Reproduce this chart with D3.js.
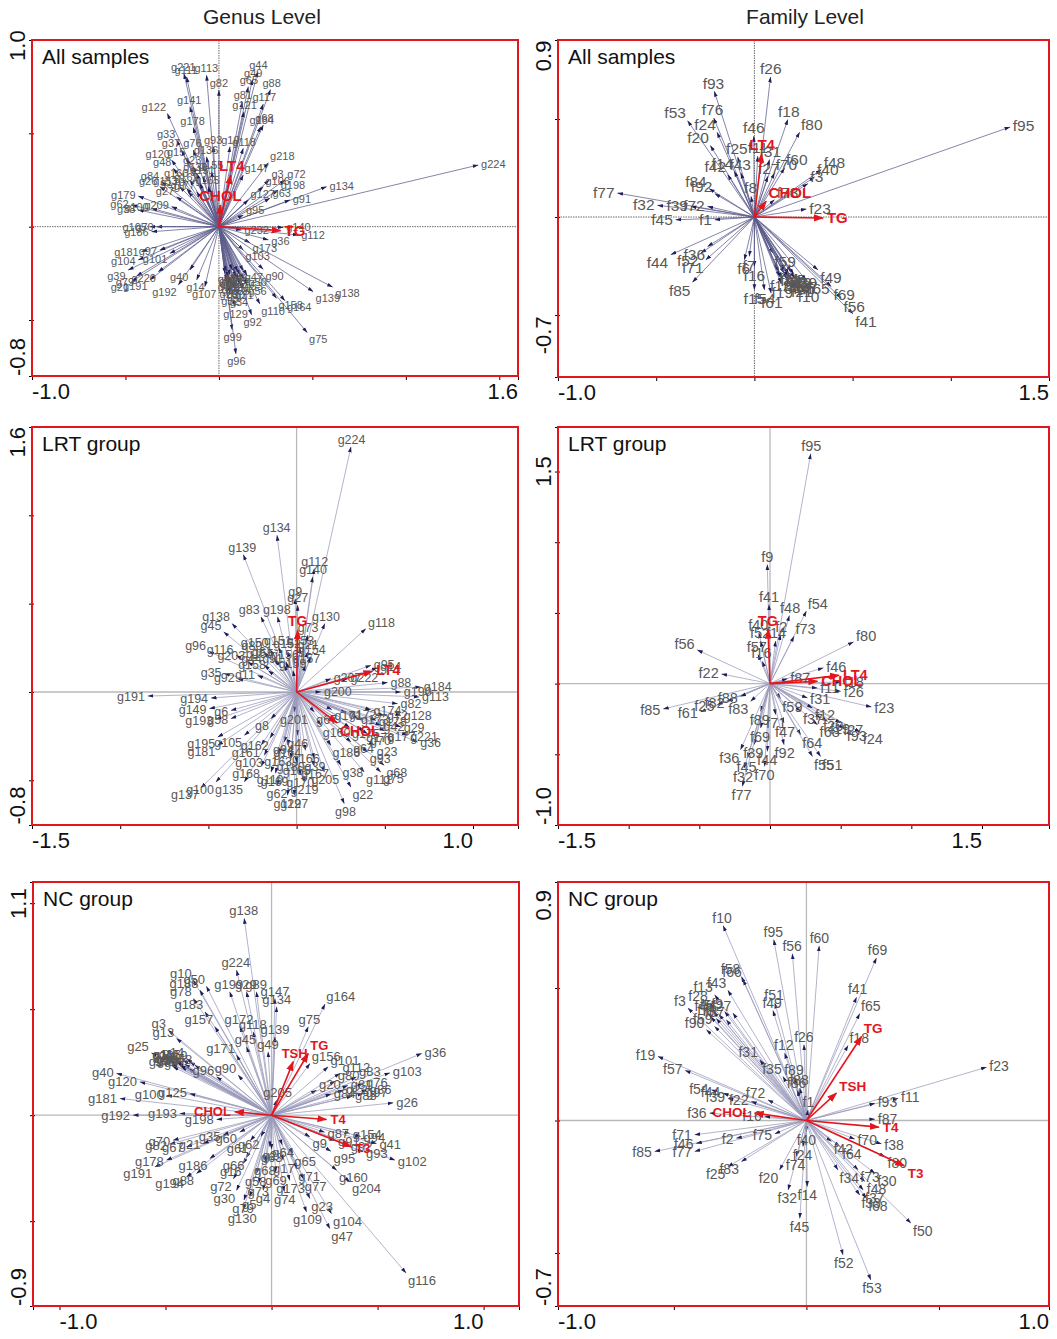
<!DOCTYPE html>
<html>
<head>
<meta charset="utf-8">
<script src="https://cdn.jsdelivr.net/npm/d3@7"></script>
<style>
  body { margin: 0; background: #fff; }
  svg { display: block; }
  text { font-family: Arial, "Liberation Sans", sans-serif; }
</style>
</head>
<body>
<svg id="chart"></svg>
<script>
// ---- Genus level, all samples ----
const gAllNames = ["g221","g111","g113","g82","g44","g49","g65","g88","g81","g117","g121","g184","g68","g122","g141","g178","g33","g218","g118","g10","g93","g76","g37","g120","g15","g136","g23","g48","g147","g3","g72","g106","g198","g134","g127","g63","g91","g95","g224","g179","g84","g26","g153","g62","g38","g100","g209","g27","g7","g70","g186","g105","g181","g104","g97","g101","g39","g79","g191","g21","g220","g192","g107","g40","g14","g232","g140","g112","g173","g36","g103","g90","g138","g139","g75","g164","g158","g110","g129","g92","g99","g96","g5","g11","g12","g17","g18","g19","g20","g28","g30","g31","g32","g34","g130","g151","g155","g160","g162","g165","g170","g177","g42","g43","g46","g47","g50","g51","g52","g53","g54","g55","g56"]
const gAllX = [-0.187,-0.173,-0.066,0.0,0.207,0.18,0.157,0.276,0.125,0.237,0.134,0.223,0.237,-0.276,-0.155,-0.137,-0.226,0.264,0.13,0.059,-0.03,-0.137,-0.2,-0.253,-0.173,-0.066,-0.137,-0.244,0.13,0.269,0.353,0.237,0.317,0.576,0.157,0.273,0.38,0.13,1.387,-0.431,-0.307,-0.316,-0.209,-0.467,-0.431,-0.36,-0.253,-0.226,-0.164,-0.333,-0.36,-0.369,-0.414,-0.431,-0.316,-0.262,-0.485,-0.44,-0.369,-0.467,-0.324,-0.217,-0.075,-0.155,-0.119,0.121,0.344,0.424,0.166,0.264,0.13,0.237,0.608,0.504,0.472,0.353,0.308,0.219,0.086,0.175,0.071,0.091,0.032,0.059,0.086,0.112,0.041,0.077,0.103,0.05,0.086,0.13,0.059,0.103,-0.119,-0.084,-0.039,-0.155,-0.102,-0.057,-0.173,-0.119,0.04,0.07,0.1,0.13,0.15,0.05,0.09,0.13,0.06,0.11,0.15]
const gAllY = [0.82,0.802,0.811,0.731,0.829,0.788,0.749,0.734,0.668,0.656,0.615,0.535,0.544,0.606,0.642,0.531,0.463,0.342,0.419,0.428,0.428,0.41,0.41,0.357,0.365,0.374,0.321,0.312,0.276,0.25,0.25,0.214,0.196,0.214,0.143,0.152,0.143,0.062,0.33,0.164,0.241,0.214,0.214,0.116,0.089,0.098,0.107,0.16,0.187,0.0,-0.027,0.0,-0.134,-0.178,-0.125,-0.143,-0.232,-0.264,-0.285,-0.294,-0.241,-0.312,-0.321,-0.232,-0.285,-0.018,-0.004,-0.045,-0.086,-0.071,-0.125,-0.228,-0.324,-0.348,-0.567,-0.396,-0.383,-0.414,-0.428,-0.472,-0.553,-0.681,-0.25,-0.258,-0.25,-0.258,-0.285,-0.285,-0.285,-0.321,-0.33,-0.33,-0.357,-0.365,0.285,0.267,0.294,0.25,0.232,0.214,0.205,0.187,-0.24,-0.23,-0.24,-0.235,-0.26,-0.27,-0.27,-0.28,-0.3,-0.305,-0.31]
const gAllEnv = ["LT4","CHOL","TG"]
const gAllEnvX = [0.064,0.007,0.33]
const gAllEnvY = [0.276,0.116,-0.021]

// ---- Family level, all samples ----
const fAllNames = ["f95","f26","f93","f53","f76","f24","f20","f18","f80","f46","f25","f48","f40","f3","f23","f11","f31","f60","f14","f43","f42","f70","f27","f8","f73","f77","f32","f39","f72","f84","f92","f45","f1","f44","f36","f52","f71","f85","f6","f7","f15","f16","f41","f56","f69","f49","f65","f10","f61","f54","f59","f2","f4","f5","f12","f13","f17","f19","f21","f22","f28","f29","f30","f33","f34","f35"]
const fAllX = [1.301,0.082,-0.204,-0.34,-0.207,-0.19,-0.224,0.17,0.23,-0.003,-0.085,0.34,0.306,0.272,0.264,0.017,0.077,0.153,-0.102,-0.068,-0.136,0.102,0.068,-0.017,0.102,-0.697,-0.493,-0.323,-0.238,-0.23,-0.201,-0.4,-0.201,-0.425,-0.238,-0.272,-0.247,-0.315,-0.051,-0.026,0,0,0.502,0.442,0.391,0.323,0.264,0.213,0.085,0.051,0.094,0.119,0.153,0.187,0.128,0.17,0.204,0.136,0.179,0.125,0.15,0.175,0.2,0.14,0.165,0.19]
const fAllY = [0.459,0.714,0.641,0.491,0.505,0.432,0.364,0.497,0.432,0.412,0.306,0.241,0.204,0.17,0.041,0.31,0.293,0.25,0.233,0.224,0.216,0.224,0.207,0.105,0.088,0.122,0.06,0.054,0.054,0.145,0.119,-0.014,-0.014,-0.192,-0.15,-0.184,-0.218,-0.332,-0.218,-0.2,-0.371,-0.252,-0.493,-0.413,-0.354,-0.269,-0.323,-0.362,-0.388,-0.371,-0.184,-0.269,-0.269,-0.277,-0.303,-0.303,-0.311,-0.337,-0.337,-0.28,-0.285,-0.29,-0.29,-0.31,-0.315,-0.32]
const fAllEnv = ["LT4","CHOL","TG"]
const fAllEnvX = [0.037,0.06,0.349]
const fAllEnvY = [0.323,0.08,-0.005]

// ---- Genus level, LRT group ----
const gLrtNames = ["g224","g134","g139","g112","g140","g9","g27","g130","g118","g198","g83","g138","g45","g96","g116","g203","g35","g92","g73","g21","g80","g61","g91","g44","g11","g95","g14","g207","g222","g88","g184","g113","g190","g82","g128","g29","g221","g36","g70","g42","g72","g200","g191","g194","g149","g6","g193","g58","g195","g181","g105","g137","g100","g135","g62","g129","g127","g219","g205","g98","g22","g111","g68","g75","g23","g64","g93","g38","g46","g8","g201","g67","g160","g186","g39","g103","g119","g180","g94","g150","g151","g152","g153","g154","g155","g156","g157","g158","g159","g161","g162","g163","g164","g165","g166","g167","g168","g169","g170","g171","g172","g173","g174","g175","g176","g177","g178"]
const gLrtX = [0.308,-0.111,-0.302,0.1,0.091,-0.008,0.006,0.16,0.392,-0.108,-0.202,-0.366,-0.413,-0.498,-0.343,-0.277,-0.409,-0.334,0.062,0.062,-0.183,-0.126,-0.07,-0.183,-0.221,0.421,0.458,0.194,0.289,0.515,0.704,0.694,0.591,0.572,0.591,0.591,0.628,0.685,0.402,0.477,0.496,0.138,-0.843,-0.485,-0.494,-0.372,-0.457,-0.372,-0.447,-0.447,-0.296,-0.542,-0.457,-0.296,-0.108,-0.051,-0.013,0.043,0.157,0.27,0.308,0.383,0.496,0.477,0.44,0.308,0.402,0.251,0.006,-0.145,-0.013,0.1,0.138,0.194,0.1,-0.183,-0.145,-0.032,-0.07,-0.15,-0.1,-0.05,0.02,0.08,-0.12,-0.06,0.05,-0.16,-0.02,-0.2,-0.15,-0.1,-0.05,0.0,0.05,0.1,-0.2,-0.12,0.02,0.2,0.28,0.35,0.42,0.3,0.38,0.5,0.45]
const gLrtY = [1.387,0.887,0.777,0.698,0.651,0.528,0.491,0.387,0.358,0.425,0.425,0.387,0.34,0.23,0.208,0.17,0.104,0.075,0.321,0.226,0.226,0.189,0.151,0.151,0.094,0.151,0.136,0.075,0.075,0.053,0.028,-0.028,0,-0.066,-0.132,-0.198,-0.245,-0.283,-0.236,-0.189,-0.132,0,-0.023,-0.034,-0.094,-0.104,-0.155,-0.151,-0.255,-0.302,-0.245,-0.543,-0.509,-0.509,-0.528,-0.585,-0.585,-0.509,-0.453,-0.632,-0.538,-0.453,-0.415,-0.453,-0.302,-0.283,-0.34,-0.415,-0.245,-0.151,-0.113,-0.113,-0.189,-0.302,-0.377,-0.358,-0.453,-0.377,-0.283,0.24,0.25,0.23,0.25,0.2,0.18,0.17,0.15,0.12,0.12,-0.3,-0.26,-0.35,-0.3,-0.4,-0.33,-0.42,-0.42,-0.46,-0.47,-0.1,-0.12,-0.15,-0.1,-0.2,-0.22,-0.22,-0.16]
const gLrtEnv = ["TG","LT4","CHOL"]
const gLrtEnvX = [0.006,0.43,0.228]
const gLrtEnvY = [0.349,0.117,-0.175]

// ---- Family level, LRT group ----
const fLrtNames = ["f95","f9","f41","f48","f54","f73","f40","f2","f52","f14","f57","f16","f56","f22","f80","f46","f87","f18","f26","f11","f23","f24","f93","f27","f31","f59","f12","f37","f20","f19","f68","f85","f61","f25","f82","f88","f83","f89","f71","f47","f64","f92","f44","f39","f69","f51","f55","f45","f36","f32","f70","f77"]
const fLrtX = [0.288,-0.019,-0.007,0.137,0.257,0.17,-0.078,0.075,-0.066,0.04,-0.085,-0.054,-0.514,-0.342,0.59,0.377,0.123,0.5,0.5,0.335,0.717,0.637,0.524,0.5,0.264,0.075,0.3,0.217,0.358,0.406,0.335,-0.755,-0.491,-0.373,-0.302,-0.208,-0.137,-0.066,0.04,0.099,0.217,0.099,-0.019,-0.113,-0.066,0.358,0.3,-0.16,-0.208,-0.184,-0.038,-0.196]
const fLrtY = [1.625,0.842,0.559,0.481,0.512,0.335,0.358,0.347,0.3,0.3,0.205,0.158,0.238,0.068,0.295,0.111,0.035,0.012,-0.054,-0.031,-0.165,-0.342,-0.318,-0.278,-0.101,-0.106,-0.172,-0.196,-0.243,-0.267,-0.29,-0.179,-0.2,-0.149,-0.125,-0.09,-0.125,-0.196,-0.219,-0.278,-0.361,-0.432,-0.479,-0.432,-0.314,-0.514,-0.514,-0.526,-0.467,-0.597,-0.585,-0.726]
const fLrtEnv = ["TG","LT4","CHOL"]
const fLrtEnvX = [-0.014,0.488,0.335]
const fLrtEnvY = [0.382,0.059,0.017]

// ---- Genus level, NC group ----
const gNcNames = ["g138","g224","g10","g50","g188","g78","g183","g3","g13","g25","g40","g120","g181","g100","g125","g164","g75","g147","g134","g139","g118","g172","g157","g199","g29","g89","g49","g45","g171","g90","g96","g36","g103","g101","g156","g26","g76","g97","g112","g22","g20","g205","g102","g116","g47","g104","g109","g23","g204","g93","g41","g154","g160","g9","g191","g82","g178","g194","g88","g70","g67","g21","g198","g193","g192","g186","g130","g35","g16","g58","g30","g5","g4","g173","g17","g2","g1","g12","g15","g19","g27","g33","g37","g48","g60","g61","g62","g63","g64","g65","g66","g68","g69","g71","g72","g73","g74","g77","g79","g80","g81","g83","g84","g85","g86","g87","g91","g92","g94","g95","g6","g7","g8","g11","g14","g18"]
const gNcX = [-0.129,-0.165,-0.369,-0.307,-0.338,-0.369,-0.314,-0.487,-0.448,-0.566,-0.731,-0.621,-0.715,-0.495,-0.385,0.252,0.173,0.016,0.024,0.016,-0.086,-0.149,-0.267,-0.197,-0.118,-0.071,-0.016,-0.118,-0.165,-0.157,-0.259,0.708,0.558,0.267,0.181,0.574,0.432,0.432,0.322,0.338,0.212,0.024,0.582,0.634,0.275,0.283,0.165,0.181,0.369,0.432,0.495,0.369,0.307,0.181,-0.55,-0.48,-0.495,-0.401,-0.354,-0.464,-0.401,-0.322,-0.259,-0.432,-0.653,-0.291,-0.134,-0.228,-0.134,-0.071,-0.165,-0.102,-0.039,0.086,0.055,-0.008,-0.48,-0.448,-0.417,-0.385,-0.464,-0.425,-0.393,-0.362,-0.15,-0.1,-0.05,0.0,0.05,0.1,-0.12,-0.03,0.02,0.12,-0.18,-0.06,0.06,0.15,-0.13,0.3,0.36,0.4,0.28,0.38,0.45,0.25,0.3,0.36,0.42,0.28,-0.47,-0.44,-0.41,-0.45,-0.4,-0.43]
const gNcY = [0.928,0.684,0.637,0.608,0.59,0.55,0.487,0.401,0.362,0.294,0.197,0.157,0.079,0.094,0.102,0.524,0.417,0.55,0.511,0.369,0.393,0.417,0.417,0.582,0.582,0.582,0.299,0.322,0.283,0.189,0.181,0.291,0.2,0.228,0.244,0.058,0.149,0.102,0.197,0.118,0.118,0.071,-0.212,-0.744,-0.535,-0.464,-0.456,-0.393,-0.314,-0.173,-0.134,-0.086,-0.259,-0.102,-0.244,-0.137,-0.212,-0.291,-0.275,-0.118,-0.149,-0.134,-0.02,0.008,0.0,-0.204,-0.448,-0.094,-0.228,-0.275,-0.354,-0.385,-0.354,-0.307,-0.212,-0.149,0.259,0.252,0.259,0.252,0.228,0.228,0.22,0.236,-0.08,-0.12,-0.1,-0.16,-0.14,-0.18,-0.2,-0.22,-0.27,-0.25,-0.3,-0.32,-0.36,-0.3,-0.4,0.16,0.14,0.18,0.1,0.09,0.12,-0.08,-0.12,-0.14,-0.1,-0.17,0.24,0.245,0.24,0.26,0.265,0.235]
const gNcEnv = ["TG","TSH","CHOL","T4","T3"]
const gNcEnvX = [0.173,0.102,-0.173,0.259,0.377]
const gNcEnvY = [0.291,0.252,0.016,-0.02,-0.149]

// ---- Family level, NC group ----
const fNcNames = ["f10","f95","f56","f60","f69","f41","f65","f18","f58","f66","f43","f13","f3","f28","f9","f27","f90","f59","f67","f51","f49","f26","f12","f31","f35","f89","f88","f86","f19","f57","f54","f44","f39","f22","f72","f36","f16","f1","f23","f11","f93","f87","f38","f80","f70","f42","f64","f40","f24","f74","f73","f30","f48","f37","f33","f68","f34","f50","f52","f53","f45","f14","f32","f20","f85","f71","f46","f77","f2","f83","f25","f75","f4","f5","f6","f7","f8"]
const fNcX = [-0.314,-0.123,-0.053,0.048,0.264,0.189,0.201,0.157,-0.245,-0.239,-0.296,-0.346,-0.447,-0.365,-0.308,-0.277,-0.377,-0.346,-0.302,-0.119,-0.126,-0.009,-0.082,-0.176,-0.088,-0.044,-0.025,-0.034,-0.56,-0.457,-0.358,-0.314,-0.296,-0.208,-0.145,-0.365,-0.157,0.006,0.679,0.346,0.258,0.258,0.283,0.296,0.182,0.094,0.126,0.0,-0.013,-0.038,0.195,0.258,0.22,0.214,0.201,0.226,0.119,0.394,0.138,0.243,-0.025,0.003,-0.069,-0.101,-0.572,-0.421,-0.415,-0.421,-0.264,-0.245,-0.296,-0.119,-0.37,-0.35,-0.33,-0.36,-0.34]
const fNcY = [0.735,0.682,0.629,0.659,0.613,0.465,0.403,0.283,0.543,0.531,0.491,0.474,0.424,0.443,0.411,0.405,0.342,0.355,0.38,0.443,0.415,0.286,0.254,0.229,0.166,0.16,0.122,0.113,0.242,0.189,0.116,0.103,0.084,0.072,0.078,0.028,0.015,0.04,0.201,0.084,0.065,0.005,-0.088,-0.136,-0.07,-0.079,-0.098,-0.042,-0.098,-0.136,-0.186,-0.199,-0.23,-0.262,-0.281,-0.293,-0.186,-0.387,-0.507,-0.601,-0.369,-0.249,-0.262,-0.186,-0.117,-0.054,-0.086,-0.117,-0.067,-0.155,-0.174,-0.05,0.405,0.41,0.4,0.39,0.385]
const fNcEnv = ["TG","TSH","CHOL","T4","T3"]
const fNcEnvX = [0.208,0.113,-0.195,0.273,0.369]
const fNcEnvY = [0.317,0.103,0.028,-0.025,-0.171]

// ---- axis end labels (value where the label sits, text) ----
const gAllXLab = [[-1.0,"-1.0"],[1.6,"1.6"]]
const gAllYLab = [[-0.8,"-0.8"],[0.97,"1.0"]]
const fAllXLab = [[-1.0,"-1.0"],[1.5,"1.5"]]
const fAllYLab = [[-0.7,"-0.7"],[0.9,"0.9"]]
const gLrtXLab = [[-1.5,"-1.5"],[1.0,"1.0"]]
const gLrtYLab = [[-0.75,"-0.8"],[1.5,"1.6"]]
const fLrtXLab = [[-1.5,"-1.5"],[1.5,"1.5"]]
const fLrtYLab = [[-1.0,"-1.0"],[1.5,"1.5"]]
const gNcXLab = [[-1.0,"-1.0"],[1.0,"1.0"]]
const gNcYLab = [[-0.9,"-0.9"],[1.07,"1.1"]]
const fNcXLab = [[-0.937,"-1.0"],[0.915,"1.0"]]
const fNcYLab = [[-0.7,"-0.7"],[0.87,"0.9"]]

const columnTitles = ["Genus Level", "Family Level"]

// layout of the six panels
const panels = [
  {title:"All samples", frame:[32,40,518,376], xd:[-1.0,1.6], yd:[-0.8,1.0], names:gAllNames, xs:gAllX, ys:gAllY, env:gAllEnv, ex:gAllEnvX, ey:gAllEnvY, xl:gAllXLab, yl:gAllYLab, topAnchor:"middle", fs:11, efs:15, dotted:true, line:"#5c5c8c"},
  {title:"All samples", frame:[558,40,1049,377], xd:[-1.0,1.5], yd:[-0.816,0.903], names:fAllNames, xs:fAllX, ys:fAllY, env:fAllEnv, ex:fAllEnvX, ey:fAllEnvY, xl:fAllXLab, yl:fAllYLab, topAnchor:"end", fs:15.5, efs:15, dotted:true, line:"#5c5c8c"},
  {title:"LRT group", frame:[32,427,518,825], xd:[-1.5,1.255], yd:[-0.753,1.5], names:gLrtNames, xs:gLrtX, ys:gLrtY, env:gLrtEnv, ex:gLrtEnvX, ey:gLrtEnvY, xl:gLrtXLab, yl:gLrtYLab, topAnchor:"end", fs:12.5, efs:14, dotted:false, line:"#9a9abb"},
  {title:"LRT group", frame:[558,427,1049,825], xd:[-1.5,1.974], yd:[-1.0,1.815], names:fLrtNames, xs:fLrtX, ys:fLrtY, env:fLrtEnv, ex:fLrtEnvX, ey:fLrtEnvY, xl:fLrtXLab, yl:fLrtYLab, topAnchor:"middle", fs:14.5, efs:14.5, dotted:false, line:"#9a9abb"},
  {title:"NC group", frame:[33,882,519,1306], xd:[-1.125,1.167], yd:[-0.9,1.1], names:gNcNames, xs:gNcX, ys:gNcY, env:gNcEnv, ex:gNcEnvX, ey:gNcEnvY, xl:gNcXLab, yl:gNcYLab, topAnchor:"end", fs:13, efs:13, dotted:false, line:"#9a9abb"},
  {title:"NC group", frame:[558,882,1049,1306], xd:[-0.937,0.915], yd:[-0.7,0.9], names:fNcNames, xs:fNcX, ys:fNcY, env:fNcEnv, ex:fNcEnvX, ey:fNcEnvY, xl:fNcXLab, yl:fNcYLab, topAnchor:"end", fs:14, efs:13.5, dotted:false, line:"#9a9abb"}
]

const red = "#e4161d"
const svg = d3.select("#chart").attr("width", 1057).attr("height", 1339)

// arrow heads
const defs = svg.append("defs")
defs.append("marker").attr("id","headSp").attr("markerUnits","userSpaceOnUse")
    .attr("viewBox","0 -3 7 6").attr("refX",6.5).attr("refY",0)
    .attr("markerWidth",6).attr("markerHeight",5).attr("orient","auto")
  .append("path").attr("d","M0,-2.2L7,0L0,2.2Z").attr("fill","#1e1e5a")
defs.append("marker").attr("id","headEnv").attr("markerUnits","userSpaceOnUse")
    .attr("viewBox","0 -4 10 8").attr("refX",9).attr("refY",0)
    .attr("markerWidth",10).attr("markerHeight",8).attr("orient","auto")
  .append("path").attr("d","M0,-3.6L10,0L0,3.6Z").attr("fill",red)

// column titles
svg.selectAll(".coltitle").data(columnTitles).join("text")
   .attr("x", (d,i) => i === 0 ? 262 : 805).attr("y", 24)
   .attr("text-anchor","middle").attr("font-size",21).attr("fill","#222")
   .text(d => d)

// put a label just beyond the arrow tip, on the side it points to
function placeLabel(sel, ox, oy, tx, ty, gap) {
  let dx = tx - ox, dy = ty - oy
  let len = Math.hypot(dx, dy) || 1
  let ux = dx / len, uy = dy / len
  sel.attr("x", tx + ux * gap).attr("y", ty + uy * gap)
     .attr("text-anchor", ux > 0.4 ? "start" : ux < -0.4 ? "end" : "middle")
     .attr("dy", uy < -0.4 ? "0" : uy > 0.4 ? "0.75em" : "0.35em")
}

function drawPanel(p) {
  const [l, t, r, b] = p.frame
  const x = d3.scaleLinear().domain(p.xd).range([l, r])
  const y = d3.scaleLinear().domain(p.yd).range([b, t])
  const g = svg.append("g")
  const ox = x(0), oy = y(0)

  // zero lines
  const zl = g.append("g")
              .attr("stroke", p.dotted ? "#6a6a6a" : "#b9b9b9")
              .attr("stroke-width", p.dotted ? 1 : 1.3)
              .attr("stroke-dasharray", p.dotted ? "1.5,1" : null)
  zl.append("line").attr("x1", ox).attr("x2", ox).attr("y1", t).attr("y2", b)
  zl.append("line").attr("x1", l).attr("x2", r).attr("y1", oy).attr("y2", oy)

  // species arrows
  const sp = p.names.map((n, i) => ({n: n, x: p.xs[i], y: p.ys[i]}))
  g.append("g").selectAll("line").data(sp).join("line")
   .attr("x1", ox).attr("y1", oy)
   .attr("x2", d => x(d.x)).attr("y2", d => y(d.y))
   .attr("stroke", p.line).attr("stroke-width", 0.75)
   .attr("marker-end", "url(#headSp)")
  g.append("g").selectAll("text").data(sp).join("text")
   .attr("font-size", p.fs).attr("fill", "#585858")
   .each(function(d) { placeLabel(d3.select(this), ox, oy, x(d.x), y(d.y), 3) })
   .text(d => d.n)

  // environmental arrows
  const ev = p.env.map((n, i) => ({n: n, x: p.ex[i], y: p.ey[i]}))
  g.append("g").selectAll("line").data(ev).join("line")
   .attr("x1", ox).attr("y1", oy)
   .attr("x2", d => x(d.x)).attr("y2", d => y(d.y))
   .attr("stroke", red).attr("stroke-width", 1.6)
   .attr("marker-end", "url(#headEnv)")
  g.append("g").selectAll("text").data(ev).join("text")
   .attr("font-size", p.efs).attr("font-weight", "bold").attr("fill", red)
   .each(function(d) { placeLabel(d3.select(this), ox, oy, x(d.x), y(d.y), 4) })
   .text(d => d.n)

  // ticks every 0.5 plus both ends of the frame
  const tv = dom => {
    let v = d3.range(Math.ceil(dom[0] / 0.5 - 1e-6) * 0.5, dom[1] + 1e-6, 0.5)
    return [dom[0], ...v, dom[1]]
  }
  g.append("g").attr("transform", `translate(0,${b})`)
   .call(d3.axisBottom(x).tickValues(tv(p.xd)).tickSize(4).tickFormat(""))
   .call(a => a.select(".domain").remove())
  g.append("g").attr("transform", `translate(${l + 2},0)`)
   .call(d3.axisLeft(y).tickValues(tv(p.yd)).tickSize(5).tickFormat(""))
   .call(a => a.select(".domain").remove())

  // axis end labels
  g.selectAll(".xl").data(p.xl).join("text")
   .attr("x", d => x(d[0])).attr("y", b + 23)
   .attr("text-anchor", (d, i) => i === 0 ? "start" : "end")
   .attr("font-size", 22).attr("fill", "#111")
   .text(d => d[1])
  g.selectAll(".yl").data(p.yl).join("text")
   .attr("transform", d => `translate(${l - 7},${y(d[0])}) rotate(-90)`)
   .attr("text-anchor", (d, i) => i === 0 ? "start" : p.topAnchor)
   .attr("font-size", 22).attr("fill", "#111")
   .text(d => d[1])

  // frame and panel title
  g.append("rect").attr("x", l).attr("y", t).attr("width", r - l).attr("height", b - t)
   .attr("fill", "none").attr("stroke", red).attr("stroke-width", 2)
  g.append("text").attr("x", l + 10).attr("y", t + 24)
   .attr("font-size", 21).attr("fill", "#111").text(p.title)
}

panels.forEach(drawPanel)
</script>
</body>
</html>
